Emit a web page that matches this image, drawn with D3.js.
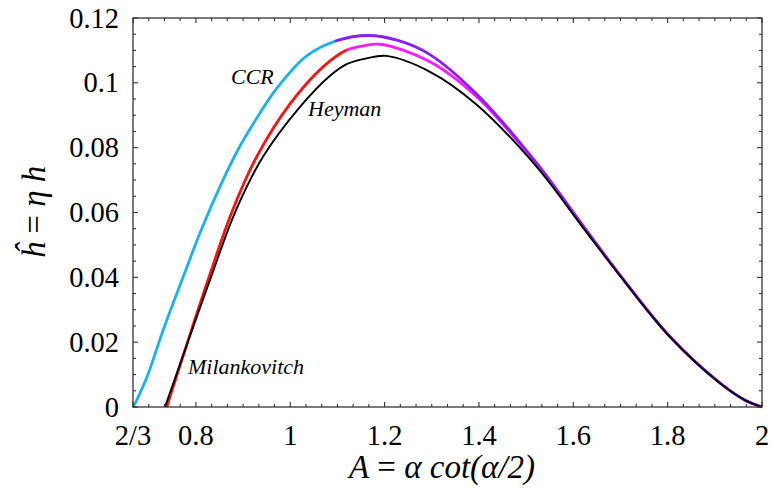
<!DOCTYPE html>
<html>
<head>
<meta charset="utf-8">
<script src="https://cdn.jsdelivr.net/npm/d3@7"></script>
<style>
  body { margin: 0; background: #fff; }
  text { font-family: "Liberation Serif", "DejaVu Serif", serif; fill: #000; }
</style>
</head>
<body>
<div id="chart"></div>
<script>
var w = 771;
var h = 491;

// top curve: CCR (blue) continuing as the purple branch
var topA = [0.6667, 0.6741, 0.6957, 0.7303, 0.7727, 0.8123, 0.8581, 0.8935, 0.9359, 0.9698, 1.0349, 1.0985, 1.1648, 1.23, 1.2962, 1.398, 1.5224, 1.6213, 1.699, 1.805, 1.911, 1.964, 2.0];
var topH = [0, 0.0020, 0.0090, 0.0236, 0.0400, 0.0550, 0.0702, 0.0805, 0.0907, 0.0980, 0.1083, 0.1130, 0.1146, 0.1130, 0.1087, 0.0961, 0.0752, 0.0558, 0.0407, 0.0217, 0.0074, 0.0021, 0];
var topSplit = 1.095;

// Milankovitch (red) continuing as the magenta branch
var milA = [0.7381, 0.7907, 0.8257, 0.8759, 0.9289, 0.9995, 1.0701, 1.1197, 1.155, 1.1903, 1.2962, 1.398, 1.5224, 1.6213, 1.699, 1.805, 1.911, 1.964, 2.0];
var milH = [0, 0.0238, 0.0392, 0.0600, 0.0772, 0.0935, 0.1050, 0.1101, 0.1114, 0.1119, 0.1065, 0.0953, 0.0748, 0.0556, 0.0406, 0.0217, 0.0074, 0.0021, 0];
var milSplit = 1.12;

// Heyman (black)
var heyA = [0.7345, 0.792, 0.83, 0.8829, 0.9422, 1.0207, 1.0843, 1.1197, 1.16, 1.204, 1.2962, 1.3916, 1.5224, 1.6213, 1.699, 1.805, 1.911, 1.964, 2.0];
var heyH = [0, 0.0238, 0.0392, 0.0600, 0.0772, 0.0926, 0.1022, 0.1058, 0.1075, 0.1083, 0.1034, 0.0937, 0.0741, 0.0552, 0.0405, 0.0216, 0.0073, 0.0021, 0];

var xTickVals = [2/3, 0.8, 1, 1.2, 1.4, 1.6, 1.8, 2];
var xTickLabels = ["2/3", "0.8", "1", "1.2", "1.4", "1.6", "1.8", "2"];
var yTickVals = [0, 0.02, 0.04, 0.06, 0.08, 0.1, 0.12];
var yTickLabels = ["0", "0.02", "0.04", "0.06", "0.08", "0.1", "0.12"];

var pL = 133, pR = 762, pT = 18, pB = 407;

var x = d3.scaleLinear().domain([2/3, 2]).range([pL, pR]);
var y = d3.scaleLinear().domain([0, 0.12]).range([pB, pT]);

var svg = d3.select("#chart")
            .append("svg")
            .attr("width", w)
            .attr("height", h);

// clip regions for the two colour branches
var defs = svg.append("defs");
defs.append("clipPath").attr("id", "topLeft").append("rect")
    .attr("x", 0).attr("y", 0).attr("width", x(topSplit)).attr("height", h);
defs.append("clipPath").attr("id", "topRight").append("rect")
    .attr("x", x(topSplit)).attr("y", 0).attr("width", w).attr("height", h);
defs.append("clipPath").attr("id", "milLeft").append("rect")
    .attr("x", 0).attr("y", 0).attr("width", x(milSplit)).attr("height", h);
defs.append("clipPath").attr("id", "milRight").append("rect")
    .attr("x", x(milSplit)).attr("y", 0).attr("width", w).attr("height", h);

function pts(a, v) {
  return a.map(function(d, i) { return [d, v[i]]; });
}

var line = d3.line()
    .x(function(d) { return x(d[0]); })
    .y(function(d) { return y(d[1]); })
    .curve(d3.curveCatmullRom.alpha(0.5));

// curves: Milankovitch first, then CCR, Heyman on top
svg.append("path").datum(pts(milA, milH)).attr("d", line)
   .attr("clip-path", "url(#milLeft)")
   .style("fill", "none").style("stroke", "#f51515").style("stroke-width", 2.8);
svg.append("path").datum(pts(milA, milH)).attr("d", line)
   .attr("clip-path", "url(#milRight)")
   .style("fill", "none").style("stroke", "#ff1cff").style("stroke-width", 2.8);
svg.append("path").datum(pts(topA, topH)).attr("d", line)
   .attr("clip-path", "url(#topLeft)")
   .style("fill", "none").style("stroke", "#18b2ee").style("stroke-width", 2.8);
svg.append("path").datum(pts(topA, topH)).attr("d", line)
   .attr("clip-path", "url(#topRight)")
   .style("fill", "none").style("stroke", "#8a1cff").style("stroke-width", 2.8);
svg.append("path").datum(pts(heyA, heyH)).attr("d", line)
   .style("fill", "none").style("stroke", "#000").style("stroke-width", 1.9);

// frame
svg.append("rect")
   .attr("x", pL).attr("y", pT)
   .attr("width", pR - pL).attr("height", pB - pT)
   .style("fill", "none").style("stroke", "#333").style("stroke-width", 1.3);

// minor/major ticks on all four sides (inward)
var xMinor = d3.range(0, 41).map(function(k) { return 2/3 + k / 30; });
var yMinor = d3.range(0, 25).map(function(k) { return k * 0.005; });

function isMajorX(v) { return xTickVals.some(function(t) { return Math.abs(t - v) < 1e-6; }); }
function isMajorY(v) { return yTickVals.some(function(t) { return Math.abs(t - v) < 1e-6; }); }

var ticks = svg.append("g").style("stroke", "#333").style("stroke-width", 1.1);
xMinor.forEach(function(v) {
  var len = isMajorX(v) ? 5 : 3;
  ticks.append("line").attr("x1", x(v)).attr("x2", x(v)).attr("y1", pB).attr("y2", pB - len);
  ticks.append("line").attr("x1", x(v)).attr("x2", x(v)).attr("y1", pT).attr("y2", pT + len);
});
yMinor.forEach(function(v) {
  var len = isMajorY(v) ? 5 : 3;
  ticks.append("line").attr("y1", y(v)).attr("y2", y(v)).attr("x1", pL).attr("x2", pL + len);
  ticks.append("line").attr("y1", y(v)).attr("y2", y(v)).attr("x1", pR).attr("x2", pR - len);
});

// tick labels
svg.selectAll(".xlab")
    .data(xTickVals)
    .enter()
    .append("text")
    .attr("class", "xlab")
    .attr("x", function(d) { return x(d); })
    .attr("y", 445)
    .attr("text-anchor", "middle")
    .style("font-size", "28.5px")
    .text(function(d, i) { return xTickLabels[i]; });

svg.selectAll(".ylab")
    .data(yTickVals)
    .enter()
    .append("text")
    .attr("class", "ylab")
    .attr("x", 119)
    .attr("y", function(d) { return y(d) + 9.5; })
    .attr("text-anchor", "end")
    .style("font-size", "28.5px")
    .text(function(d, i) { return yTickLabels[i]; });

// axis titles
var xt = svg.append("text")
    .attr("x", 442).attr("y", 478)
    .attr("text-anchor", "middle")
    .style("font-size", "33px");
xt.append("tspan").style("font-style", "italic").text("A");
xt.append("tspan").text(" = ");
xt.append("tspan").style("font-style", "italic").text("α cot(α/2)");

var yt = svg.append("text")
    .attr("transform", "translate(45,212) rotate(-90)")
    .attr("text-anchor", "middle")
    .style("font-size", "33px");
yt.append("tspan").style("font-style", "italic").text("ĥ");
yt.append("tspan").text(" = ");
yt.append("tspan").style("font-style", "italic").text("η h");

// curve labels
svg.append("text").attr("x", 231).attr("y", 84)
   .style("font-style", "italic").style("font-size", "22px").text("CCR");
svg.append("text").attr("x", 308).attr("y", 116)
   .style("font-style", "italic").style("font-size", "22px").text("Heyman");
svg.append("text").attr("x", 188).attr("y", 374)
   .style("font-style", "italic").style("font-size", "22px").text("Milankovitch");
</script>
</body>
</html>
